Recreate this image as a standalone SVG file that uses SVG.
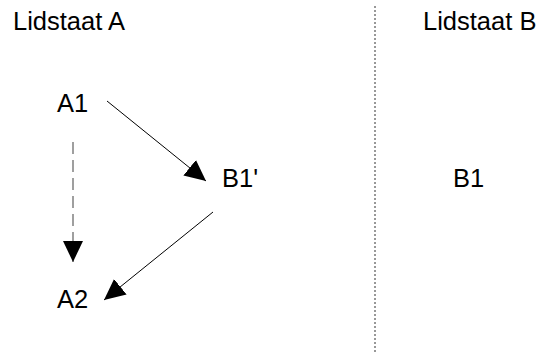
<svg xmlns="http://www.w3.org/2000/svg" width="542" height="354" viewBox="0 0 542 354">
<style>
text{font-family:"Liberation Sans",Arial,sans-serif;font-size:25.5px;fill:#000}
.ln{stroke:#000;stroke-width:1;fill:none}
.dash{stroke:#808080;stroke-width:1.5;stroke-dasharray:12,6;fill:none}
.sep{stroke:#777;stroke-width:1.5;stroke-dasharray:2,2;fill:none}
</style>
<defs>
<marker id="ah" markerUnits="userSpaceOnUse" markerWidth="21" markerHeight="20" viewBox="0 0 21 20" refX="21" refY="10" orient="auto">
<path d="M0,0 L21,10 L0,20 Z" fill="#000"/>
</marker>
</defs>
<g id="separator"><line class="sep" x1="375" y1="6" x2="375" y2="354"/></g>
<g id="lidstaatA"><text x="13" y="30">Lidstaat A</text></g>
<g id="lidstaatB"><text x="423" y="30">Lidstaat B</text></g>
<g id="A1"><text x="57" y="112">A1</text></g>
<g id="B1prime"><text x="222" y="187">B1'</text></g>
<g id="B1"><text x="453" y="187">B1</text></g>
<g id="A2"><text x="57" y="308">A2</text></g>
<g id="connectors">
<line class="ln" x1="107" y1="101" x2="206" y2="181" marker-end="url(#ah)"/>
<line class="ln" x1="213" y1="212" x2="104" y2="300" marker-end="url(#ah)"/>
<line class="dash" x1="73" y1="142" x2="73" y2="262" marker-end="url(#ah)"/>
</g>
</svg>
